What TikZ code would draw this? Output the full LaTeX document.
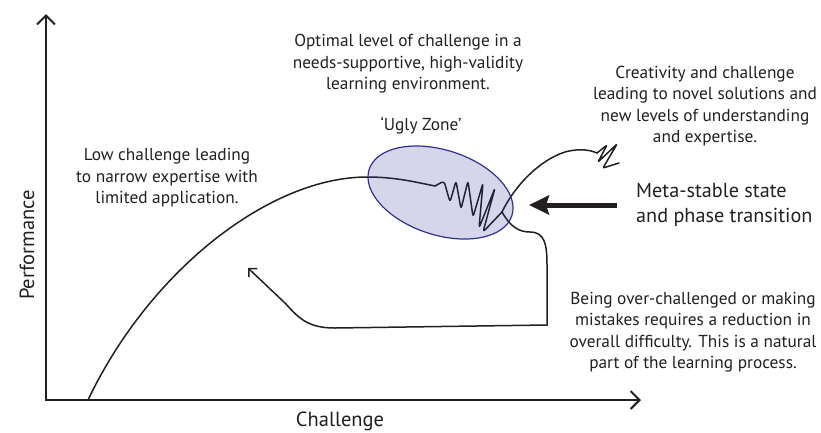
\documentclass[tikz,border=0pt]{standalone}
\usepackage{fontspec}
\setmainfont{PT Sans}
\usetikzlibrary{arrows.meta}
\definecolor{zoneblue}{HTML}{2E3192}
\definecolor{ink}{HTML}{231F20}
\begin{document}
\begin{tikzpicture}[x=1pt,y=-1pt,
  axisline/.style={line width=2pt, draw=ink, line join=miter},
  curveline/.style={line width=1.5pt, draw=ink, line cap=round, line join=round},
  txt/.style={font=\fontsize{17.3}{21.5}\selectfont, align=center, text=ink, inner sep=0pt},
  bigtxt/.style={font=\fontsize{20.2}{24.5}\selectfont, align=left, text=ink, inner sep=0pt},
  axtxt/.style={font=\fontsize{20.5}{24}\selectfont, text=ink, inner sep=0pt},
  zone/.style={draw=zoneblue, line width=1.2pt, fill=zoneblue, fill opacity=0.2}
]
\useasboundingbox (0,0) rectangle (821,432);

% axes
\coordinate (ytop) at (46,14);
\coordinate (origin) at (46,400);
\coordinate (xend) at (641,400);
\draw[axisline, {Straight Barb[length=9pt,width=18pt]}-{Straight Barb[length=9pt,width=18pt]}] (ytop) -- (origin) -- (xend);

% main rising curve
\coordinate (start) at (88,400);
\coordinate (peak) at (367,177);
\coordinate (zigA) at (435,186);
\draw[curveline] (start) .. controls (150,270) and (270,177) .. (peak) .. controls (395,177) and (415,182) .. (zigA);

% zigzag into junction
\coordinate (junc) at (502,212);
\draw[curveline, rounded corners=3pt] (zigA) -- (444,181) -- (450,202) -- (456,181) -- (461,209) -- (468,181) -- (473,217) -- (483,183) -- (479,228) -- (495,188) -- (483,232) -- (junc);

% upper branch to creativity squiggle
\coordinate (sq) at (597,153);
\draw[curveline] (junc) .. controls (515,185) and (540,160) .. (565,152) .. controls (580,148) and (590,150) .. (sq);
\draw[curveline, rounded corners=1pt] (sq) -- (607,145) -- (598,162) -- (617,144) -- (603,168) -- (619,163);

% lower branch: loop back with arrow
\coordinate (corner) at (547,325);
\coordinate (loopEnd) at (248,268);
\draw[curveline] (junc) .. controls (510,226) and (518,232) .. (530,232) .. controls (545,232) and (547,245) .. (547,265) -- (corner);
\draw[curveline, -{Straight Barb[length=6pt,width=12pt]}] (corner) -- (335,328) .. controls (310,328) and (300,320) .. (286,304) -- (loopEnd);

% ugly zone ellipse
\node[txt] (ugly) at (421,126) {‘Ugly Zone’};
\coordinate (zc) at (440.5,192.5);
\draw[zone, rotate around={-18:(zc)}] (zc) ellipse (75 and 42.4);

% big arrow
\coordinate (arrS) at (617,205);
\coordinate (arrE) at (529,205);
\draw[line width=5pt, draw=ink, -{Stealth[length=20pt,width=19pt,inset=3pt]}] (arrS) -- (arrE);

% texts
\node[txt] (optimal) at (408,64) {Optimal level of challenge in a\\needs-supportive, high-validity\\learning environment.};
\node[txt] (creat) at (705,106) {Creativity and challenge\\leading to novel solutions and\\new levels of understanding\\and expertise.};
\node[txt] (low) at (167,178) {Low challenge leading\\to narrow expertise with\\limited application.};
\node[bigtxt, anchor=west] (meta) at (636,205) {Meta-stable state\\and phase transition};
\node[txt] (being) at (693,332) {Being over-challenged or making\\mistakes requires a reduction in\\overall difficulty. This is a natural\\part of the learning process.};
\node[axtxt, rotate=90] (perf) at (27,245) {Performance};
\node[axtxt] (chal) at (340,421) {Challenge};
\end{tikzpicture}
\end{document}
